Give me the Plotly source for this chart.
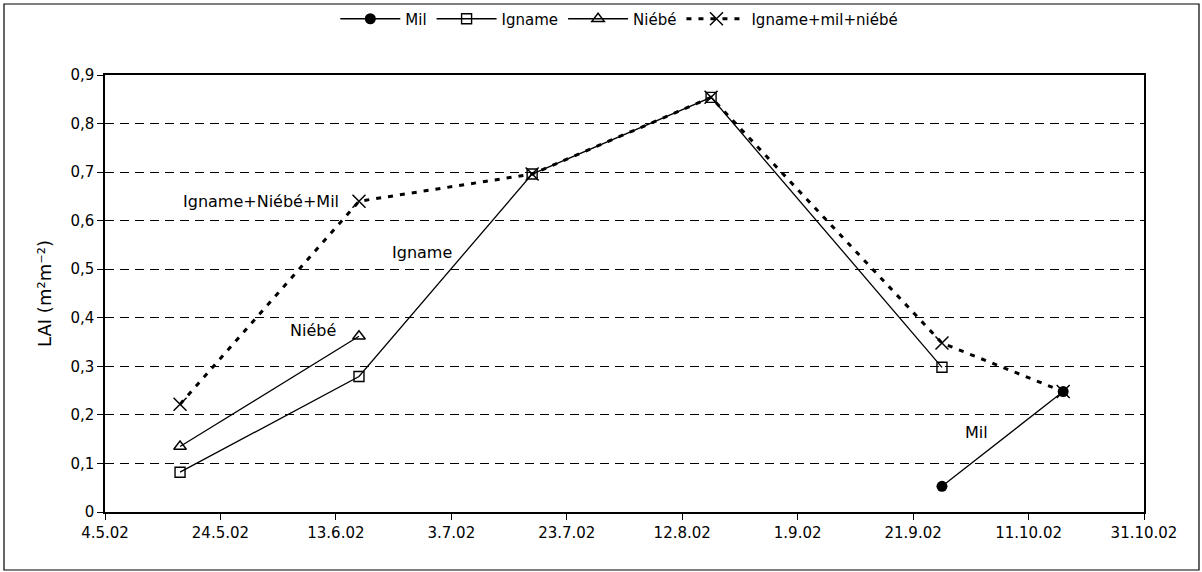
import plotly.graph_objects as go

# ---- data ----
igname_dates = ["2002-05-17", "2002-06-17", "2002-07-17", "2002-08-17", "2002-09-26"]
igname_lai = [0.082, 0.279, 0.696, 0.854, 0.298]

niebe_dates = ["2002-05-17", "2002-06-17"]
niebe_lai = [0.135, 0.362]

mil_dates = ["2002-09-26", "2002-10-17"]
mil_lai = [0.053, 0.248]

mix_dates = ["2002-05-17", "2002-06-17", "2002-07-17", "2002-08-17", "2002-09-26", "2002-10-17"]
mix_lai = [0.222, 0.640, 0.696, 0.854, 0.348, 0.248]

y_tickvals = [0, 0.1, 0.2, 0.3, 0.4, 0.5, 0.6, 0.7, 0.8, 0.9]
y_ticktext = ["0", "0,1", "0,2", "0,3", "0,4", "0,5", "0,6", "0,7", "0,8", "0,9"]

FONT = "DejaVu Sans, Liberation Sans, Arial, sans-serif"

fig = go.Figure()

fig.add_trace(go.Scatter(
    x=mil_dates, y=mil_lai, name="Mil", mode="lines+markers",
    line=dict(color="black", width=1.3),
    marker=dict(symbol="circle", size=11, color="black"),
))
fig.add_trace(go.Scatter(
    x=igname_dates, y=igname_lai, name="Igname", mode="lines+markers",
    line=dict(color="black", width=1.3),
    marker=dict(symbol="square-open", size=10, color="black", line=dict(width=1.4)),
))
fig.add_trace(go.Scatter(
    x=niebe_dates, y=niebe_lai, name="Niébé", mode="lines+markers",
    line=dict(color="black", width=1.3),
    marker=dict(symbol="triangle-up-open", size=11, color="black", line=dict(width=1.4)),
))
fig.add_trace(go.Scatter(
    x=mix_dates, y=mix_lai, name="Igname+mil+niébé", mode="lines+markers",
    line=dict(color="black", width=3, dash="5px,7px"),
    marker=dict(symbol="x-thin-open", size=13, color="black", line=dict(width=1.5, color="black")),
))

# labels inside the plot
labels = [
    ("Igname+Niébé+Mil", "2002-05-31", 0.64),
    ("Igname", "2002-06-28", 0.535),
    ("Niébé", "2002-06-09", 0.373),
    ("Mil", "2002-10-02", 0.163),
]
for txt, xd, yv in labels:
    fig.add_annotation(x=xd, y=yv, text=txt, showarrow=False,
                       font=dict(family=FONT, size=16, color="black"))

# outer border of the figure
W, H = 1202, 572
L, R, T, B = 105, 58, 75, 60
pw, ph = W - L - R, H - T - B
def px_x(p):
    return (p - L) / pw
def px_y(p):
    return 1 - (p - T) / ph
fig.add_shape(type="rect", xref="paper", yref="paper",
              x0=px_x(4), x1=px_x(1199), y0=px_y(4), y1=px_y(570),
              line=dict(color="black", width=1.2), layer="below")

fig.update_layout(
    width=W, height=H,
    margin=dict(l=L, r=R, t=T, b=B, autoexpand=False),
    paper_bgcolor="white", plot_bgcolor="white",
    font=dict(family=FONT, size=15, color="black"),
    showlegend=True,
    legend=dict(orientation="h", x=0.495, xanchor="center", y=px_y(19), yanchor="middle",
                font=dict(family=FONT, size=15), itemwidth=60, tracegroupgap=0,
                bgcolor="rgba(0,0,0,0)"),
)

fig.update_xaxes(
    type="date",
    range=["2002-05-04", "2002-10-31"],
    tick0="2002-05-04", dtick=20 * 86400000,
    tickformat="%-d.%-m.%y",
    showgrid=False, zeroline=False,
    showline=True, linecolor="black", linewidth=1.5, mirror=True,
    ticks="outside", ticklen=6, tickcolor="black",
    tickfont=dict(family=FONT, size=15),
)
fig.update_yaxes(
    range=[0, 0.9],
    tickvals=y_tickvals, ticktext=y_ticktext,
    showgrid=True, gridcolor="black", gridwidth=1, griddash="9px,6px",
    zeroline=False,
    showline=True, linecolor="black", linewidth=1.5, mirror=True,
    ticks="outside", ticklen=6, tickcolor="black",
    tickfont=dict(family=FONT, size=15),
    title=dict(text="LAI (m²m⁻²)", font=dict(family=FONT, size=18), standoff=14),
)

fig.write_html(
    "out.html",
    config={"displayModeBar": False},
    post_script="document.body.style.margin='0';document.body.style.overflow='hidden';",
)
